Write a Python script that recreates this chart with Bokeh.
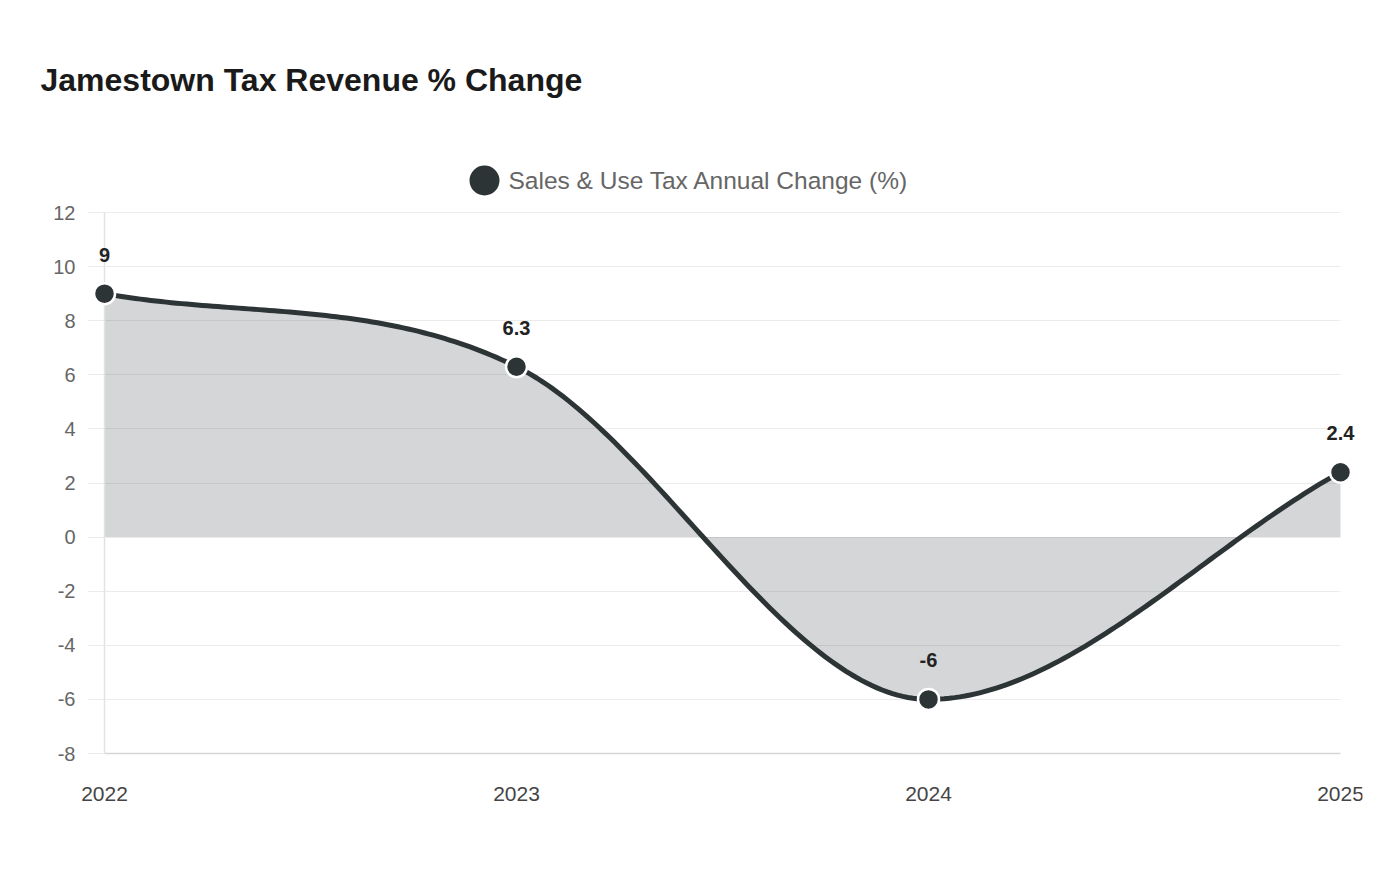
import numpy as np
from bokeh.plotting import figure
from bokeh.models import Range1d, FixedTicker, ColumnDataSource, Label, BoxAnnotation
from bokeh.core.properties import value
from bokeh.embed import file_html
from bokeh.resources import INLINE

# ---- data ----
years = ["2022", "2023", "2024", "2025"]
sales_use_change = [9, 6.3, -6, 2.4]
y_ticks = [-8, -6, -4, -2, 0, 2, 4, 6, 8, 10, 12]
y_tick_labels = ["-8", "-6", "-4", "-2", "0", "2", "4", "6", "8", "10", "12"]
title_text = "Jamestown Tax Revenue % Change"
series_name = "Sales & Use Tax Annual Change (%)"

FONT = "Liberation Sans"
LINE = "#2d3436"

# ---- layout (pixels on the canvas) ----
W, H = 1392, 872
FRAME_L, FRAME_R, FRAME_T, FRAME_B = 30, 1362, 20, 850     # drawing frame
PLOT_L, PLOT_R, PLOT_T, PLOT_B = 104, 1340, 212, 753       # visible axis box
TICK = 16

xs = np.arange(len(years), dtype=float)
ys = np.array(sales_use_change, dtype=float)


def monotone_curve(x, y, n=80):
    """Monotone cubic (Chart.js style) rendering of the line through the points."""
    d = np.diff(y) / np.diff(x)
    m = np.zeros_like(y)
    m[0] = d[0]
    m[-1] = d[-1]
    for i in range(1, len(y) - 1):
        m[i] = 0.0 if d[i - 1] * d[i] <= 0 else (d[i - 1] + d[i]) / 2
    for i in range(len(d)):
        if d[i] == 0:
            m[i] = m[i + 1] = 0.0
            continue
        a, b = m[i] / d[i], m[i + 1] / d[i]
        s = a * a + b * b
        if s > 9:
            t = 3 / np.sqrt(s)
            m[i] = a * t * d[i]
            m[i + 1] = b * t * d[i]
    cx, cy = [], []
    for i in range(len(d)):
        h = x[i + 1] - x[i]
        p0, p3 = y[i], y[i + 1]
        p1 = y[i] + m[i] * h / 3
        p2 = y[i + 1] - m[i + 1] * h / 3
        t = np.linspace(0, 1, n, endpoint=(i == len(d) - 1))
        cx.append(x[i] + t * h)
        cy.append((1 - t) ** 3 * p0 + 3 * (1 - t) ** 2 * t * p1 + 3 * (1 - t) * t ** 2 * p2 + t ** 3 * p3)
    return np.concatenate(cx), np.concatenate(cy)


cx, cy = monotone_curve(xs, ys)

x0, x1 = 0, len(years) - 1
y0, y1 = min(y_ticks), max(y_ticks)
xu = (PLOT_R - PLOT_L) / (x1 - x0)        # px per x unit
yu = (PLOT_B - PLOT_T) / (y1 - y0)        # px per y unit
x_range = Range1d(x0 - (PLOT_L - FRAME_L) / xu, x1 + (FRAME_R - PLOT_R) / xu)
y_range = Range1d(y0 - (FRAME_B - PLOT_B) / yu, y1 + (PLOT_T - FRAME_T) / yu)

p = figure(
    width=W, height=H, x_range=x_range, y_range=y_range,
    output_backend="svg", toolbar_location=None,
    min_border_left=FRAME_L, min_border_right=W - FRAME_R,
    min_border_top=FRAME_T, min_border_bottom=H - FRAME_B,
)
p.title = None
p.outline_line_color = None
p.background_fill_color = "white"
p.border_fill_color = "white"

# x axis fixed at the bottom of the value scale
p.xaxis.fixed_location = y0
p.xaxis.bounds = (x0, x1)
p.xaxis.ticker = FixedTicker(ticks=list(xs))
p.xaxis.major_label_overrides = {i: y for i, y in enumerate(years)}
p.xaxis.major_tick_out = 0
p.xaxis.major_tick_in = 0
p.xaxis.minor_tick_out = 0
p.xaxis.minor_tick_in = 0
p.xaxis.axis_line_color = "#d6d6d6"
p.xaxis.axis_line_width = 1.5
p.xaxis.major_label_text_font = FONT
p.xaxis.major_label_text_font_size = "21px"
p.xaxis.major_label_text_color = "#444444"
p.xaxis.major_label_standoff = 33

# y axis fixed at the first category
p.yaxis.fixed_location = x0
p.yaxis.bounds = (y0, y1)
p.yaxis.ticker = FixedTicker(ticks=y_ticks)
p.yaxis.major_label_overrides = dict(zip(y_ticks, y_tick_labels))
p.yaxis.major_tick_out = TICK
p.yaxis.major_tick_in = 0
p.yaxis.minor_tick_out = 0
p.yaxis.minor_tick_in = 0
p.yaxis.major_tick_line_color = "#ebebeb"
p.yaxis.axis_line_color = "#e2e2e2"
p.yaxis.axis_line_width = 1.5
p.yaxis.major_label_text_font = FONT
p.yaxis.major_label_text_font_size = "20px"
p.yaxis.major_label_text_color = "#666666"
p.yaxis.major_label_standoff = 13

p.xgrid.grid_line_color = None
p.ygrid.ticker = FixedTicker(ticks=y_ticks)
p.ygrid.grid_line_color = "#ebebeb"
p.ygrid.grid_line_width = 1

# white masks so the horizontal grid only spans the axis box (plus tick length)
p.add_layout(BoxAnnotation(right=x0 - TICK / xu, fill_color="white", fill_alpha=1,
                           line_alpha=0, level="underlay"))
p.add_layout(BoxAnnotation(left=x1, fill_color="white", fill_alpha=1,
                           line_alpha=0, level="underlay"))

# area + line + points
p.varea(x=cx, y1=np.zeros_like(cy), y2=cy, fill_color=LINE, fill_alpha=0.2)
p.line(cx, cy, line_color=LINE, line_width=5, line_join="round", line_cap="round")

src = ColumnDataSource(dict(x=xs, y=ys, label=[f"{v:g}" for v in sales_use_change]))
p.scatter("x", "y", source=src, size=21, fill_color=LINE, line_color="white",
          line_width=2.5, level="overlay")
p.text("x", "y", text="label", source=src, text_align="center", text_baseline="middle",
       y_offset=-39, text_font=value(FONT), text_font_style="bold",
       text_font_size="20px", text_color="#222222", level="overlay")

# title
p.add_layout(Label(x=40 - FRAME_L, y=FRAME_B - 79, x_units="screen", y_units="screen",
                   text=title_text, text_font=FONT, text_font_style="bold",
                   text_font_size="32px", text_color="#1a1a1a",
                   text_baseline="alphabetic", text_align="left"))

# legend: round dot + label
LEG_CX, LEG_CY, LEG_R = 484, 180, 15
p.add_layout(BoxAnnotation(left=LEG_CX - LEG_R - FRAME_L, right=LEG_CX + LEG_R - FRAME_L,
                           bottom=FRAME_B - LEG_CY - LEG_R, top=FRAME_B - LEG_CY + LEG_R,
                           left_units="screen", right_units="screen",
                           bottom_units="screen", top_units="screen",
                           fill_color=LINE, fill_alpha=1, line_alpha=0,
                           border_radius=LEG_R))
p.add_layout(Label(x=508 - FRAME_L, y=FRAME_B - LEG_CY, x_units="screen", y_units="screen",
                   text=series_name, text_font=FONT, text_font_size="24.5px",
                   text_color="#666666", text_baseline="middle", text_align="left"))

open("out.html", "w").write(file_html(p, INLINE))
